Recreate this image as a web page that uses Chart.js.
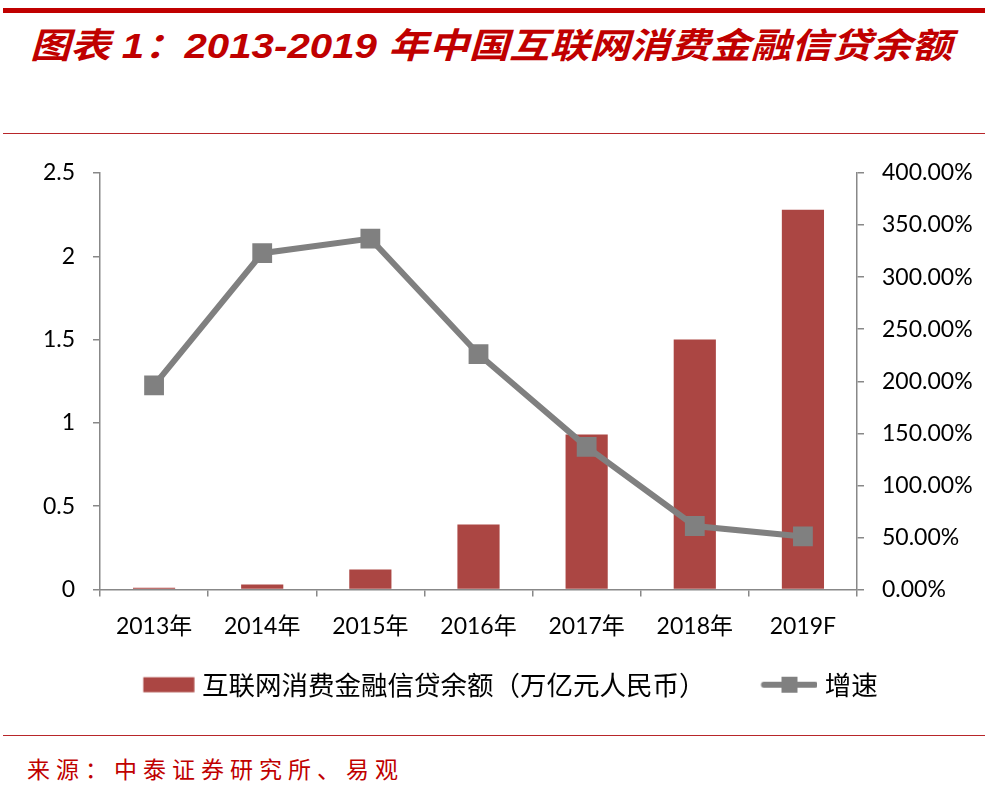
<!DOCTYPE html>
<html>
<head>
<meta charset="utf-8">
<script src="https://cdn.jsdelivr.net/npm/chart.js@4.4.1/dist/chart.umd.min.js"></script>
<style>
  html, body { margin: 0; padding: 0; background: #fff; }
  body { width: 997px; height: 789px; position: relative; overflow: hidden; }
  .bar-top { position: absolute; left: 3px; top: 8px; width: 982px; height: 5px; background: #C00000; }
  .rule { position: absolute; left: 3px; width: 982px; height: 1px; background: #B8262A; }
  #title { position: absolute; left: 30px; top: 17px; white-space: nowrap;
    font-family: "Liberation Sans", "Noto Sans CJK SC", sans-serif; font-weight: bold; font-style: italic;
    font-size: 35px; color: #C00000; transform-origin: left center; }
  #source { position: absolute; left: 27px; top: 751px; white-space: nowrap;
    font-family: "Noto Sans CJK SC", sans-serif; font-size: 23px; letter-spacing: 6px; color: #C00000; }
  #wrap { position: absolute; left: 0; top: 140px; width: 997px; height: 600px; }
</style>
</head>
<body>
<div class="bar-top"></div>
<div id="title">图表 1：2013-2019 年中国互联网消费金融信贷余额</div>
<div class="rule" style="top:133px"></div>
<div id="wrap"><canvas id="chart" width="997" height="600"></canvas></div>
<div class="rule" style="top:735px"></div>
<div id="source">来源：中泰证券研究所、易观</div>

<script>
// chart data
var years = ["2013年", "2014年", "2015年", "2016年", "2017年", "2018年", "2019F"];
var balance = [0.01, 0.03, 0.12, 0.39, 0.93, 1.50, 2.28];   // 万亿元人民币
var growth = [196, 323, 337, 226, 137, 61, 51];              // %
var leftTicks = [0, 0.5, 1, 1.5, 2, 2.5];
var rightTicks = [0, 50, 100, 150, 200, 250, 300, 350, 400];

var barLabel = "互联网消费金融信贷余额（万亿元人民币）";
var lineLabel = "增速";

var barColor = "#AB4643";
var lineColor = "#808080";
var axisColor = "#888888";
var tickFont = { family: "Lato, 'Noto Sans CJK SC', sans-serif", size: 23 };

// legend swatches drawn as small canvases
var swW = 96;
function makeSwatch(kind) {
  var c = document.createElement("canvas");
  c.width = swW + 12; c.height = 20;
  var g = c.getContext("2d");
  var right = c.width / 2 + swW / 2 + 5.5;
  if (kind === "bar") {
    g.fillStyle = barColor;
    g.fillRect(right - 51, 2.5, 51, 15);
  } else {
    g.strokeStyle = lineColor;
    g.lineWidth = 6;
    g.lineCap = "round";
    g.beginPath();
    g.moveTo(right - 53, 10); g.lineTo(right - 2, 10);
    g.stroke();
    g.fillStyle = lineColor;
    g.fillRect(right - 35.5, 2, 16, 16);
  }
  return c;
}
var barSwatch = makeSwatch("bar");
var lineSwatch = makeSwatch("line");

var ctx = document.getElementById("chart").getContext("2d");
var chart = new Chart(ctx, {
  data: {
    labels: years,
    datasets: [
      {
        type: "bar",
        label: barLabel,
        data: balance,
        backgroundColor: barColor,
        yAxisID: "y",
        order: 1,
        barPercentage: 0.39,
        categoryPercentage: 1
      },
      {
        type: "line",
        label: lineLabel,
        data: growth,
        borderColor: lineColor,
        backgroundColor: lineColor,
        borderWidth: 6,
        pointStyle: "rect",
        pointRadius: 14,
        pointBorderWidth: 0,
        tension: 0,
        yAxisID: "y1",
        order: 0
      }
    ]
  },
  options: {
    responsive: false,
    animation: false,
    layout: { padding: { top: 33, left: 0, right: 0, bottom: 32 } },
    plugins: {
      tooltip: { enabled: false },
      legend: {
        position: "bottom",
        labels: {
          usePointStyle: true,
          pointStyleWidth: swW,
          padding: 10,
          color: "#000",
          font: { family: "'Noto Sans CJK SC', sans-serif", size: 26.5 },
          generateLabels: function (ch) {
            // trailing ideographic space keeps the legend row off-centre like the original
            return [
              { text: barLabel, pointStyle: barSwatch, fillStyle: barColor, strokeStyle: barColor, lineWidth: 0, hidden: false, datasetIndex: 0 },
              { text: lineLabel + "\u3000", pointStyle: lineSwatch, fillStyle: lineColor, strokeStyle: lineColor, lineWidth: 0, hidden: false, datasetIndex: 1 }
            ];
          }
        }
      }
    },
    scales: {
      x: {
        offset: true,
        grid: { offset: true, drawOnChartArea: false, drawTicks: true, tickLength: 7, color: axisColor, lineWidth: 1.5 },
        border: { display: true, color: axisColor, width: 1.5 },
        ticks: { color: "#000", font: tickFont, padding: 16, maxRotation: 0, autoSkip: false },
        afterFit: function (s) { s.height = 72; }
      },
      y: {
        position: "left",
        min: 0, max: 2.5,
        afterBuildTicks: function (s) { s.ticks = leftTicks.map(function (v) { return { value: v }; }); },
        grid: { drawOnChartArea: false, drawTicks: true, tickLength: 7, color: axisColor, lineWidth: 1.5 },
        border: { display: true, color: axisColor, width: 1.5 },
        ticks: { color: "#000", font: tickFont, padding: 18, callback: function (v) { return String(v); } },
        afterFit: function (s) { s.width = 100; }
      },
      y1: {
        position: "right",
        min: 0, max: 400,
        afterBuildTicks: function (s) { s.ticks = rightTicks.map(function (v) { return { value: v }; }); },
        grid: { drawOnChartArea: false, drawTicks: true, tickLength: 7, color: axisColor, lineWidth: 1.5 },
        border: { display: true, color: axisColor, width: 1.5 },
        ticks: { color: "#000", font: tickFont, padding: 18, callback: function (v) { return v.toFixed(2) + "%"; } },
        afterFit: function (s) { s.width = 140; }
      }
    }
  }
});

// stretch title to the reference width
var t = document.getElementById("title");
var tw = t.getBoundingClientRect().width;
t.style.transform = "scaleX(" + (922 / tw) + ")";
</script>
</body>
</html>
